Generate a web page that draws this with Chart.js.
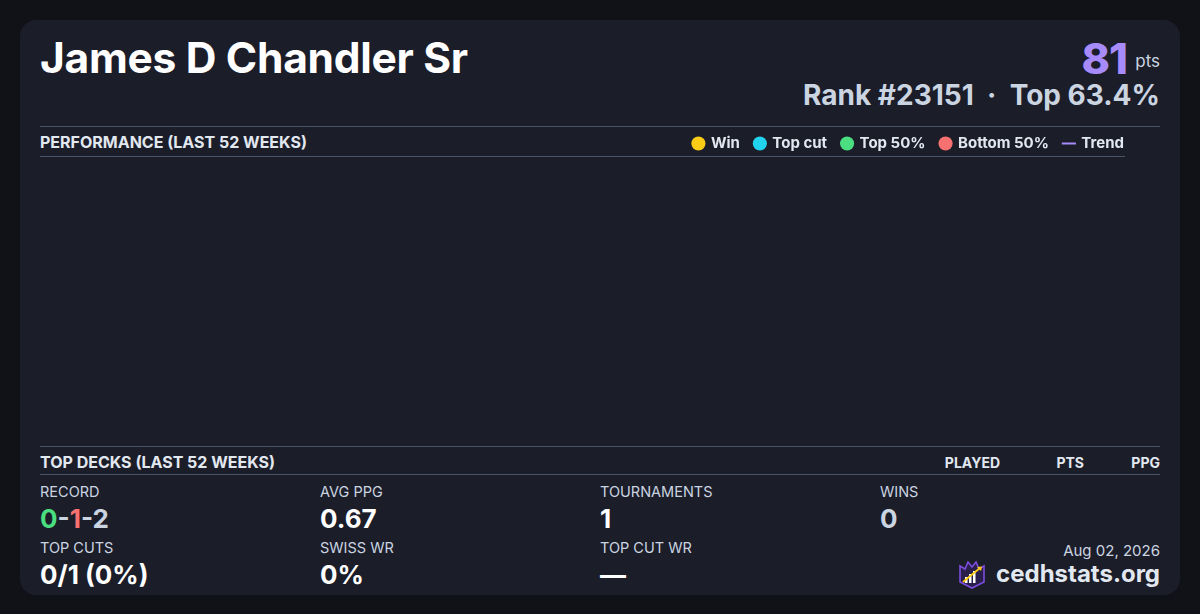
<!DOCTYPE html>
<html>
<head>
<meta charset="utf-8">
<script src="https://cdn.jsdelivr.net/npm/chart.js@4/dist/chart.umd.min.js"></script>
<style>
  html, body { margin: 0; padding: 0; }
  body { width: 1200px; height: 614px; background: #111217; font-family: Inter, "Noto Sans", sans-serif; overflow: hidden; }
  .card { position: absolute; left: 20px; top: 20px; width: 1160px; height: 575px; background: #1b1d29; border-radius: 16px; }
  .abs { position: absolute; white-space: nowrap; }
  .name { left: 20px; top: 12px; font-size: 42.5px; font-weight: 700; color: #fff; letter-spacing: -0.3px; }
  .big { right: 53px; top: 12px; color: #a78bfa; font-size: 43px; font-weight: 800; letter-spacing: -1px; }
  .pts { right: 20px; top: 31px; color: #cbd5e1; font-size: 17px; }
  .rank { right: 20px; top: 58px; font-size: 28px; font-weight: 700; color: #cbd5e1; }
  .hline { position: absolute; height: 1px; background: #4a5468; }
  .sect { font-size: 16px; font-weight: 700; color: #e2e8f0; }
  .colh { font-size: 14px; font-weight: 700; color: #e2e8f0; }
  .lbl { font-size: 14.5px; color: #cbd5e1; }
  .val { font-size: 26px; font-weight: 700; color: #fff; }
  #chartBox { position: absolute; left: 20px; top: 101px; width: 1099px; height: 325px; }
  .brand { right: 20px; top: 539px; font-size: 24px; font-weight: 700; color: #e2e8f0; }
  .brand svg { vertical-align: -7px; margin-right: 10px; }
</style>
</head>
<body>
<div class="card">
  <div class="abs name">James D Chandler Sr</div>
  <div class="abs big">81</div>
  <div class="abs pts">pts</div>
  <div class="abs rank">Rank #23151 &nbsp;·&nbsp; Top 63.4%</div>

  <div class="hline" style="left:20px; top:106px; width:1120px;"></div>
  <div class="abs sect" style="left:20px; top:112px;">PERFORMANCE (LAST 52 WEEKS)</div>
  <div class="hline" style="left:20px; top:136px; width:1085px;"></div>
  <div id="chartBox"><canvas id="perf"></canvas></div>

  <div class="hline" style="left:20px; top:426px; width:1120px;"></div>
  <div class="abs sect" style="left:20px; top:432px;">TOP DECKS (LAST 52 WEEKS)</div>
  <div class="abs colh" style="right:180px; top:434px;">PLAYED</div>
  <div class="abs colh" style="right:96px; top:434px;">PTS</div>
  <div class="abs colh" style="right:20px; top:434px;">PPG</div>
  <div class="hline" style="left:20px; top:454px; width:1120px;"></div>

  <div id="stats"></div>

  <div class="abs lbl" style="right:20px; top:521px; font-size:15px;">Aug 02, 2026</div>
  <div class="abs brand"><svg width="28" height="30" viewBox="0 0 28 30">
    <path d="M2 7 L7 10 L10 3 L14 8 L18 3 L21 10 L26 7 L26 23 L14 29 L2 23 Z" fill="#2a1f4a" stroke="#7c4dde" stroke-width="1.6"/>
    <rect x="7" y="18" width="2.5" height="6" fill="#fff"/>
    <rect x="11" y="15" width="2.5" height="9" fill="#fff"/>
    <rect x="15" y="12" width="2.5" height="12" fill="#fff"/>
    <path d="M5 23 L22 9" stroke="#facc15" stroke-width="1.8"/>
    <path d="M19 8 L24 7.5 L23 12 Z" fill="#facc15"/>
  </svg>cedhstats.org</div>
</div>
<script>
// legend categories and colours
const categories = ["Win", "Top cut", "Top 50%", "Bottom 50%"];
const catColors = ["#facc15", "#22d3ee", "#4ade80", "#f87171"];
const trendColor = "#a78bfa";
// weekly points per category (no events placed in the last 52 weeks)
const winPoints = [];
const topCutPoints = [];
const top50Points = [];
const bottom50Points = [];
const trendPoints = [];

// stat grid
const statLabels = ["RECORD", "AVG PPG", "TOURNAMENTS", "WINS", "TOP CUTS", "SWISS WR", "TOP CUT WR"];
const statValues = ["", "0.67", "1", "0", "0/1 (0%)", "0%", "—"];
const record = [0, 1, 2];

const statsEl = document.getElementById("stats");
statLabels.forEach((l, i) => {
  const col = i % 4, row = Math.floor(i / 4);
  const x = 20 + col * 280;
  const y = row === 0 ? 463 : 519;
  let v = statValues[i];
  if (l === "RECORD") {
    v = `<span style="color:#4ade80">${record[0]}</span><span style="color:#cbd5e1">-</span>` +
        `<span style="color:#f87171">${record[1]}</span><span style="color:#cbd5e1">-${record[2]}</span>`;
  }
  let color = l === "WINS" ? "#cbd5e1" : "#fff";
  statsEl.insertAdjacentHTML("beforeend",
    `<div class="abs lbl" style="left:${x}px; top:${y}px">${l}</div>` +
    `<div class="abs val" style="left:${x}px; top:${y + 20}px; color:${color}">${v}</div>`);
});

const seriesData = [winPoints, topCutPoints, top50Points, bottom50Points];
const datasets = categories.map((c, i) => ({
  type: "scatter",
  label: c,
  data: seriesData[i],
  backgroundColor: catColors[i],
  borderColor: catColors[i],
  pointStyle: "circle",
  pointRadius: 5,
}));
datasets.push({
  type: "line",
  label: "Trend",
  data: trendPoints,
  borderColor: trendColor,
  backgroundColor: trendColor,
  borderWidth: 2,
  pointStyle: "line",
  pointRadius: 0,
});

new Chart(document.getElementById("perf"), {
  type: "scatter",
  data: { datasets: datasets },
  options: {
    responsive: true,
    maintainAspectRatio: false,
    animation: false,
    layout: { padding: 0 },
    scales: {
      x: { display: false, type: "linear", min: 0, max: 52 },
      y: { display: false, min: 0, max: 10 },
    },
    plugins: {
      tooltip: { enabled: false },
      legend: {
        position: "top",
        align: "end",
        labels: {
          usePointStyle: true,
          boxHeight: 10,
          boxWidth: 10,
          padding: 15,
          color: "#e2e8f0",
          font: { family: "Inter", size: 15, weight: "700" },
          generateLabels: (chart) => chart.data.datasets.map((d, i) => ({
            text: d.label,
            fillStyle: d.backgroundColor,
            strokeStyle: d.borderColor,
            lineWidth: d.type === "line" ? 2 : 0,
            pointStyle: d.pointStyle,
            fontColor: "#e2e8f0",
            datasetIndex: i,
          })),
        },
      },
    },
  },
});
</script>
</body>
</html>
